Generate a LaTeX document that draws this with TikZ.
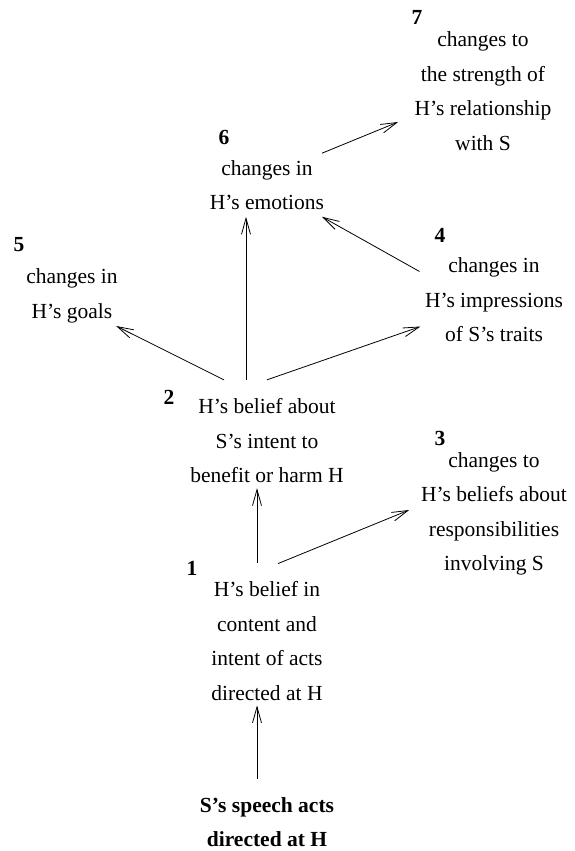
\documentclass[tikz,border=0pt]{standalone}
\usepackage{fontspec}
\setmainfont{Liberation Serif}
\usetikzlibrary{arrows.meta}
\tikzstyle{box}=[align=center,inner sep=0pt,outer sep=0pt,
  font=\fontsize{21.5}{34.5}\selectfont]
\tikzstyle{num}=[box,font=\fontsize{21.5}{34.5}\selectfont\bfseries]
\tikzstyle{link}=[->,line width=.8pt]

\begin{document}
\begin{tikzpicture}[x=1pt, y=-1pt, >={Straight Barb[length=16pt,width=9pt]}]
  \useasboundingbox (0,0) rectangle (575,851);

  \node[num] (speech) at (267,822) {S's speech acts\\directed at H};
  \node[box] (n1) at (267,641) {H's belief in\\content and\\intent of acts\\directed at H};
  \node[box] (n2) at (267,441) {H's belief about\\S's intent to\\benefit or harm H};
  \node[box] (n3) at (494,514) {changes to\\H's beliefs about\\responsibilities\\involving S};
  \node[box] (n4) at (494,300) {changes in\\H's impressions\\of S's traits};
  \node[box] (n5) at (72,296) {changes in\\H's goals};
  \node[box] (n6) at (267,185) {changes in\\H's emotions};
  \node[box] (n7) at (483,91) {changes to\\the strength of\\H's relationship\\with S};

  % step numbers
  \node[num] (l1) at (192,568) {1};
  \node[num] (l2) at (169,397) {2};
  \node[num] (l3) at (440,438) {3};
  \node[num] (l4) at (440,235) {4};
  \node[num] (l5) at (19,245) {5};
  \node[num] (l6) at (224,137) {6};
  \node[num] (l7) at (417,17) {7};

  \draw[link] ([xshift=-10pt,yshift=18pt]speech.north) -- ([xshift=-10pt,yshift=-5pt]n1.south);
  \draw[link] ([xshift=-10pt,yshift=19pt]n1.north) -- ([xshift=-10pt,yshift=-5pt]n2.south);
  \draw[link] ([xshift=11pt,yshift=18pt]n1.north) -- ([xshift=-12pt,yshift=4pt]n3.west);
  \draw[link] ([xshift=-43pt,yshift=19pt]n2.north) -- ([xshift=-1.5pt,yshift=-3pt]n5.south east);
  \draw[link] ([xshift=-21pt,yshift=19pt]n2.north) -- ([xshift=-21pt,yshift=-7pt]n6.south);
  \draw[link] ([yshift=19pt]n2.north) -- ([xshift=-4.5pt,yshift=-26.5pt]n4.west);
  \draw[link] ([xshift=-5.5pt,yshift=28.5pt]n4.west) -- ([xshift=55pt,yshift=-7pt]n6.south);
  \draw[link] ([xshift=55pt,yshift=7pt]n6.north) -- ([xshift=-16.5pt,yshift=-31pt]n7.west);
\end{tikzpicture}
\end{document}
